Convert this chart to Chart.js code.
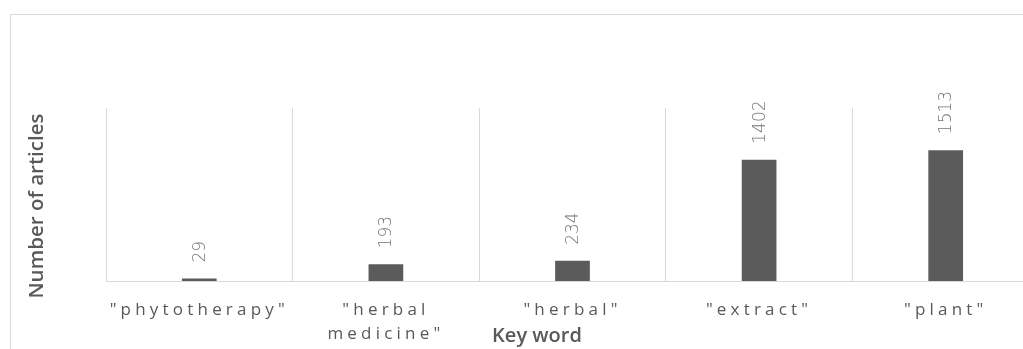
<!DOCTYPE html>
<html>
<head>
<meta charset="utf-8">
<script src="https://cdn.jsdelivr.net/npm/chart.js@4/dist/chart.umd.min.js"></script>
<style>
  html, body { margin: 0; padding: 0; background: #fff; overflow: hidden; width: 1023px; height: 349px; }
  #box { position: absolute; left: 10px; top: 14px; width: 1100px; height: 400px; border: 1px solid #d9d9d9; }
  #chart { position: absolute; left: 0; top: 0; }
</style>
</head>
<body>
<div id="box"></div>
<canvas id="chart" width="1060" height="349"></canvas>
<script>
// keywords searched and the number of articles found for each
var keywords = ['"phytotherapy"', ['"herbal', 'medicine"'], '"herbal"', '"extract"', '"plant"'];
var articles = [29, 193, 234, 1402, 1513];
var yMax = 2000;

var xTitle = 'Key word';
var yTitle = 'Number of articles';

// letter spaced tick labels, plain text for everything else
var spacing = {
  id: 'spacing',
  beforeDraw: function(chart) { chart.ctx.letterSpacing = '4.2px'; },
  beforeDatasetsDraw: function(chart) { chart.ctx.letterSpacing = '0px'; }
};

// vertical value labels above the bars
var barLabels = {
  id: 'barLabels',
  afterDatasetsDraw: function(chart) {
    var ctx = chart.ctx;
    var meta = chart.getDatasetMeta(0);
    meta.data.forEach(function(bar, i) {
      ctx.save();
      ctx.letterSpacing = '0px';
      ctx.translate(bar.x + 1, bar.y - 16);
      ctx.rotate(-Math.PI / 2);
      ctx.font = '300 17px "DejaVu Sans"';
      ctx.fillStyle = '#737373';
      ctx.textAlign = 'left';
      ctx.textBaseline = 'middle';
      ctx.fillText(String(articles[i]), 0, 0);
      ctx.restore();
    });
  }
};

// axis titles sit where the original put them
var axisTitles = {
  id: 'axisTitles',
  afterDraw: function(chart) {
    var ctx = chart.ctx;
    ctx.save();
    ctx.letterSpacing = '0px';
    ctx.fillStyle = '#595959';
    ctx.textAlign = 'center';
    ctx.textBaseline = 'alphabetic';
    ctx.font = '600 20px "Open Sans"';
    ctx.fillText(xTitle, 537, 342);
    ctx.font = '600 20.5px "Open Sans"';
    ctx.translate(43, 206);
    ctx.rotate(-Math.PI / 2);
    ctx.fillText(yTitle, 0, 0);
    ctx.restore();
  }
};

var ctx = document.getElementById('chart').getContext('2d');
var chart = new Chart(ctx, {
  type: 'bar',
  data: {
    labels: keywords,
    datasets: [{
      data: articles,
      backgroundColor: '#5b5b5b',
      barPercentage: 0.186,
      categoryPercentage: 1
    }]
  },
  options: {
    responsive: false,
    animation: false,
    devicePixelRatio: 1,
    layout: { padding: { left: 106, right: 21, top: 108, bottom: 0 } },
    plugins: {
      legend: { display: false },
      tooltip: { enabled: false }
    },
    scales: {
      x: {
        grid: { color: '#d9d9d9', lineWidth: 1, drawTicks: false, offset: true },
        border: { display: true, color: '#d9d9d9', width: 1 },
        ticks: {
          color: '#595959',
          font: { family: '"Open Sans"', size: 17, lineHeight: 1.4 },
          padding: 17,
          maxRotation: 0,
          autoSkip: false
        },
        afterFit: function(scale) { scale.height = 68; }
      },
      y: {
        display: false,
        min: 0,
        max: yMax
      }
    }
  },
  plugins: [spacing, barLabels, axisTitles]
});
</script>
</body>
</html>
